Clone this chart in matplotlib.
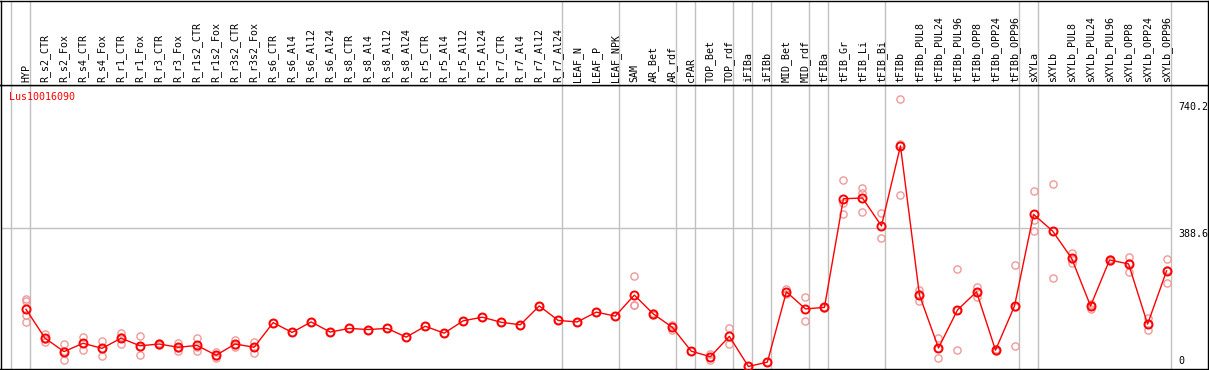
import matplotlib
matplotlib.use('Agg')
import matplotlib.pyplot as plt

################################################################################
# data
################################################################################

gene = 'Lus10016090'

samples = ['HYP',
           'R_s2_CTR', 'R_s2_Fox', 'R_s4_CTR', 'R_s4_Fox', 'R_r1_CTR', 'R_r1_Fox',
           'R_r3_CTR', 'R_r3_Fox', 'R_r1s2_CTR', 'R_r1s2_Fox', 'R_r3s2_CTR', 'R_r3s2_Fox',
           'R_s6_CTR', 'R_s6_Al4', 'R_s6_Al12', 'R_s6_Al24',
           'R_s8_CTR', 'R_s8_Al4', 'R_s8_Al12', 'R_s8_Al24',
           'R_r5_CTR', 'R_r5_Al4', 'R_r5_Al12', 'R_r5_Al24',
           'R_r7_CTR', 'R_r7_Al4', 'R_r7_Al12', 'R_r7_Al24',
           'LEAF_N', 'LEAF_P', 'LEAF_NPK',
           'SAM', 'AR_Bet', 'AR_rdf',
           'cPAR',
           'TOP_Bet', 'TOP_rdf',
           'iFIBa',
           'iFIBb',
           'MID_Bet', 'MID_rdf',
           'tFIBa',
           'tFIB_Gr', 'tFIB_Li', 'tFIB_Bi',
           'tFIBb', 'tFIBb_PUL8', 'tFIBb_PUL24', 'tFIBb_PUL96',
           'tFIBb_OPP8', 'tFIBb_OPP24', 'tFIBb_OPP96',
           'sXYLa',
           'sXYLb', 'sXYLb_PUL8', 'sXYLb_PUL24', 'sXYLb_PUL96',
           'sXYLb_OPP8', 'sXYLb_OPP24', 'sXYLb_OPP96']

# index where each sample group starts (plus the end)
group_edges = [0, 1, 29, 32, 35, 36, 38, 39, 40, 42, 43, 46, 53, 54, 61]

means = [165,
         85, 48, 71, 57, 85, 64,
         69, 60, 65, 38, 69, 60,
         128, 101, 130, 102,
         112, 109, 112, 88,
         118, 99, 133, 143,
         129, 122, 174, 134,
         130, 157, 146,
         204, 152, 115,
         49,
         34, 90,
         7,
         19,
         213, 166,
         170,
         470, 472, 395,
         616, 204, 58, 163,
         213, 52, 174,
         427,
         381, 306, 174, 301,
         290, 124, 271]

replicates = [[194, 189, 148, 129],
              [96, 84, 75], [69, 50, 24], [89, 72, 52], [78, 56, 37], [99, 87, 69], [92, 62, 38],
              [72, 69, 66], [71, 59, 50], [85, 60, 50], [48, 35, 31], [80, 65, 62], [75, 60, 45],
              [128], [101], [130], [102],
              [112], [109], [112], [88],
              [118], [99], [133], [143],
              [129], [122], [174], [134],
              [130], [157], [146],
              [257, 178, 177], [155, 150], [122, 108],
              [49],
              [41, 25], [112, 68],
              [7],
              [19],
              [220, 206], [198, 133],
              [172, 168],
              [521, 458, 427], [500, 485, 434], [430, 361],
              [746, 480, 622], [218, 187, 207], [85, 30, 59], [275, 52, 162],
              [227, 200, 212], [55, 49], [287, 64, 171],
              [492, 412, 381],
              [510, 251, 382], [321, 292, 305], [180, 165, 177], [303, 299],
              [309, 267, 294], [141, 108, 123], [303, 237, 273]]

y_labels = [740.2, 388.6, 0]

################################################################################
# layout
################################################################################

W, H = 1209, 370
col_w = 19.01          # pixels per sample column
x0_px = 26.0           # pixel position of the first sample
top_px, bot_px = 85, 369
y_top = 784.0

def px_to_x(px):
    return (px - x0_px) / col_w

xlim = (px_to_x(0.5), px_to_x(1208))
edge_x = [e - (x0_px - 11.0) / col_w for e in group_edges]

mono = 'DejaVu Sans Mono'
fs = 7.2
grey = '#c0c0c0'
red = '#ff0000'
pink = '#ee9a9a'

fig = plt.figure(figsize=(W / 100, H / 100), dpi=100)

ax = fig.add_axes([0.5 / W, (H - bot_px) / H, 1207.5 / W, (bot_px - top_px) / H])
hd = fig.add_axes([0.5 / W, (H - top_px) / H, 1207.5 / W, (top_px - 0.5) / H])

for a in (ax, hd):
    a.set_xlim(*xlim)
    a.set_xticks([])
    a.set_yticks([])
    for s in a.spines.values():
        s.set_color('black')
        s.set_linewidth(1.0)
    for ex in edge_x:
        a.axvline(ex, color=grey, lw=1.0, zorder=0)

ax.set_ylim(0, y_top)
hd.set_ylim(0, 1)

# middle grid line
ax.hlines(y_labels[1], xlim[0], edge_x[-1], color=grey, lw=1.0, zorder=0)

################################################################################
# marks
################################################################################

xs = list(range(len(samples)))

for i, reps in enumerate(replicates):
    ax.plot([i] * len(reps), reps, linestyle='none', marker='o', ms=5.2,
            mfc='none', mec=pink, mew=1.0, zorder=2)

ax.plot(xs, means, color=red, lw=1.0, zorder=3)
ax.plot(xs, means, linestyle='none', marker='o', ms=5.8, mfc='none',
        mec=red, mew=1.4, zorder=4)

################################################################################
# text
################################################################################

for i, name in enumerate(samples):
    hd.text(i, 0.03, name, rotation=90, ha='center', va='bottom',
            family=mono, fontsize=fs, color='black')

ax.text(px_to_x(9), 1 - 7 / (bot_px - top_px), gene, transform=ax.get_xaxis_transform(),
        ha='left', va='top', family=mono, fontsize=fs, color=red)

lab_x = px_to_x(1178)
ax.text(lab_x, y_labels[0] - 1.5 * y_top / (bot_px - top_px), '%.1f' % y_labels[0],
        ha='left', va='top', family=mono, fontsize=fs)
ax.text(lab_x, y_labels[1] - 0.5 * y_top / (bot_px - top_px), '%.1f' % y_labels[1],
        ha='left', va='top', family=mono, fontsize=fs)
ax.text(lab_x, 3.5 * y_top / (bot_px - top_px), '0',
        ha='left', va='bottom', family=mono, fontsize=fs)

fig.savefig('out.png', dpi=100)
